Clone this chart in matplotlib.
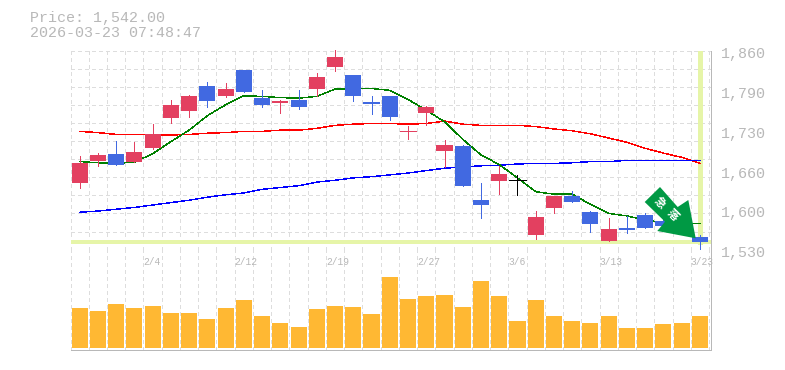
import matplotlib
matplotlib.use('Agg')
import matplotlib.pyplot as plt
from matplotlib.patches import Polygon

W, H = 785, 370

# candles
opens = [1641, 1677, 1689, 1675, 1698, 1748, 1760, 1801, 1785, 1828, 1781, 1773, 1778, 1796, 1833, 1819, 1775, 1785,
         1726, 1756, 1693, 1702, 1612, 1644, 1645, 1554, 1599, 1619, 1592, 1544, 1566, 1587, 1578, 1572, 1551]
closes = [1674, 1687, 1670, 1692, 1722, 1770, 1785, 1776, 1796, 1791, 1770, 1776, 1766, 1816, 1849, 1785, 1771, 1750,
          1727, 1766, 1703, 1636, 1604, 1655, 1645, 1584, 1619, 1609, 1573, 1564, 1563, 1566, 1570, 1564, 1542]
highs = [1685, 1690, 1710, 1708, 1738, 1778, 1786, 1808, 1806, 1828, 1795, 1778, 1795, 1823, 1861, 1819, 1785, 1785,
         1735, 1768, 1712, 1703, 1640, 1669, 1654, 1594, 1619, 1627, 1594, 1582, 1586, 1591, 1582, 1575, 1554]
lows = [1632, 1669, 1670, 1675, 1697, 1740, 1750, 1766, 1783, 1791, 1766, 1756, 1763, 1785, 1826, 1776, 1755, 1745,
        1713, 1737, 1667, 1636, 1582, 1622, 1621, 1548, 1591, 1609, 1559, 1544, 1558, 1566, 1566, 1561, 1529]

# moving averages
ma_green = [1676, 1674, 1673, 1675, 1689, 1709, 1728, 1752, 1770, 1785, 1784, 1782, 1781, 1784, 1796, 1797, 1797, 1794,
            1779, 1761, 1742, 1713, 1687, 1671, 1649, 1626, 1622, 1622, 1605, 1590, 1586, 1579, 1575, 1574, 1573]
ma_red = [1726, 1724, 1721, 1721, 1720, 1720, 1721, 1723, 1724, 1726, 1726, 1728, 1728, 1731, 1736, 1738, 1739, 1739,
          1738, 1739, 1743, 1738, 1736, 1736, 1736, 1734, 1730, 1727, 1722, 1715, 1708, 1698, 1690, 1683, 1673]
ma_blue = [1592, 1594, 1597, 1600, 1604, 1608, 1612, 1617, 1621, 1624, 1630, 1633, 1636, 1642, 1645, 1649, 1651, 1654,
           1657, 1661, 1665, 1667, 1669, 1670, 1672, 1673, 1673, 1674, 1676, 1676, 1678, 1678, 1678, 1678, 1678]

volumes = [40, 37, 44, 40, 42, 35, 35, 29, 40, 48, 32, 25, 21, 39, 42, 41, 34, 71,
           49, 52, 53, 41, 67, 52, 27, 48, 32, 27, 25, 32, 20, 20, 24, 25, 32]

price_ticks = [1860, 1794, 1728, 1662, 1596, 1530]
price_labels = ['1,860', '1,790', '1,730', '1,660', '1,600', '1,530']
date_pos = [4, 9, 14, 19, 24, 29, 34]
date_labels = ['2/4', '2/12', '2/19', '2/27', '3/6', '3/13', '3/23']
last_price = 1542

UP = '#E34060'
DOWN = '#4169E1'
GRID = '#DDDDDD'
TEXT = '#B8B8B8'
PALE = '#E6F5A8'
ARROW = '#009944'
MONO = 'Liberation Mono'
THIN = 0.45

n = len(opens)
xs = list(range(n))

fig = plt.figure(figsize=(W / 100, H / 100), dpi=100, facecolor='white')
ax = fig.add_axes([70.5 / W, 1 - 249.7 / H, 640 / W, 199.2 / H])
vol = fig.add_axes([70.5 / W, 1 - 350 / H, 640 / W, 100.3 / H])

for a in (ax, vol):
    a.set_xlim(-0.5, 34.58)
    a.set_xticks([])
    a.set_yticks([])
    for s in ('top', 'left'):
        a.spines[s].set_visible(False)
    for s in ('bottom', 'right'):
        a.spines[s].set_color(TEXT)
        a.spines[s].set_linewidth(0.72)
    for i in range(n + 1):
        a.axvline(i - 0.5, color=GRID, lw=0.72, ls=(0, (3, 3)), zorder=1, antialiased=False)

# price panel
ax.set_ylim(1530, 1860)
for p in range(1530, 1861, 30):
    ax.axhline(p, color=GRID, lw=0.72, ls=(0, (3, 3)), zorder=1, antialiased=False, clip_on=False)

ax.axhline(last_price, color=PALE, lw=2.6, zorder=2, antialiased=False)
ax.plot([34, 34], [last_price, 1860], color=PALE, lw=2.2, zorder=2, antialiased=False)

ax.plot(xs, ma_red, color='#FF0000', lw=0.3, zorder=3, antialiased=False)
ax.plot(xs, ma_blue, color='#0000FF', lw=0.3, zorder=3, antialiased=False)
ax.plot(xs, ma_green, color='#008000', lw=0.3, zorder=3, antialiased=False)

for i in xs:
    o, c = opens[i], closes[i]
    color = UP if c > o else DOWN if c < o else 'black'
    ax.vlines(i, lows[i], highs[i], color=color, lw=THIN, zorder=4, antialiased=False, clip_on=False)
    if abs(c - o) < 2:
        ax.hlines((o + c) / 2, i - 0.44, i + 0.44, color=color, lw=THIN, zorder=4, antialiased=False)
    else:
        ax.bar(i, abs(c - o), bottom=min(o, c), width=0.88, color=color, lw=0, zorder=4, antialiased=False)

for p, lab in zip(price_ticks, price_labels):
    ax.annotate(lab, xy=(1, p), xycoords=ax.get_yaxis_transform(), xytext=(7.5, -2.6), textcoords='offset points',
                ha='left', va='center', color=TEXT, family=MONO, fontsize=10.8, annotation_clip=False)

# volume panel
vol.set_ylim(-2, 98.3)
vol.bar(xs, volumes, width=0.88, color='#FFB833', lw=0, zorder=3, antialiased=False)

for i, lab in zip(date_pos, date_labels):
    vol.annotate(lab, xy=(i - 0.5, 1), xycoords=vol.get_xaxis_transform(), xytext=(0, -8.6), textcoords='offset points',
                 ha='left', va='center', color=TEXT, family=MONO, fontsize=6.9, annotation_clip=False, zorder=4)

fig.text(30 / W, 1 - 18 / H, 'Price: 1,542.00', color=TEXT, family=MONO, fontsize=10.8, va='center')
fig.text(30 / W, 1 - 33 / H, '2026-03-23 07:48:47', color=TEXT, family=MONO, fontsize=10.8, va='center')

# signal arrow
arrow_px = [(660, 187), (677.7, 207), (688.3, 200), (695.7, 238.3), (657.3, 231), (665, 221.7), (644.7, 202)]
fig.add_artist(Polygon([(x / W, 1 - y / H) for x, y in arrow_px], closed=True, facecolor=ARROW, edgecolor='none',
                       transform=fig.transFigure, zorder=5))
for (x, y), ch in zip([(660, 203), (672.7, 215)], '急落'):
    fig.text(x / W, 1 - y / H, ch, color='white', family='Noto Sans CJK JP', fontweight='bold', fontsize=8,
             rotation=-45, ha='center', va='center', zorder=6)

fig.savefig('out.png', dpi=100, facecolor='white')
